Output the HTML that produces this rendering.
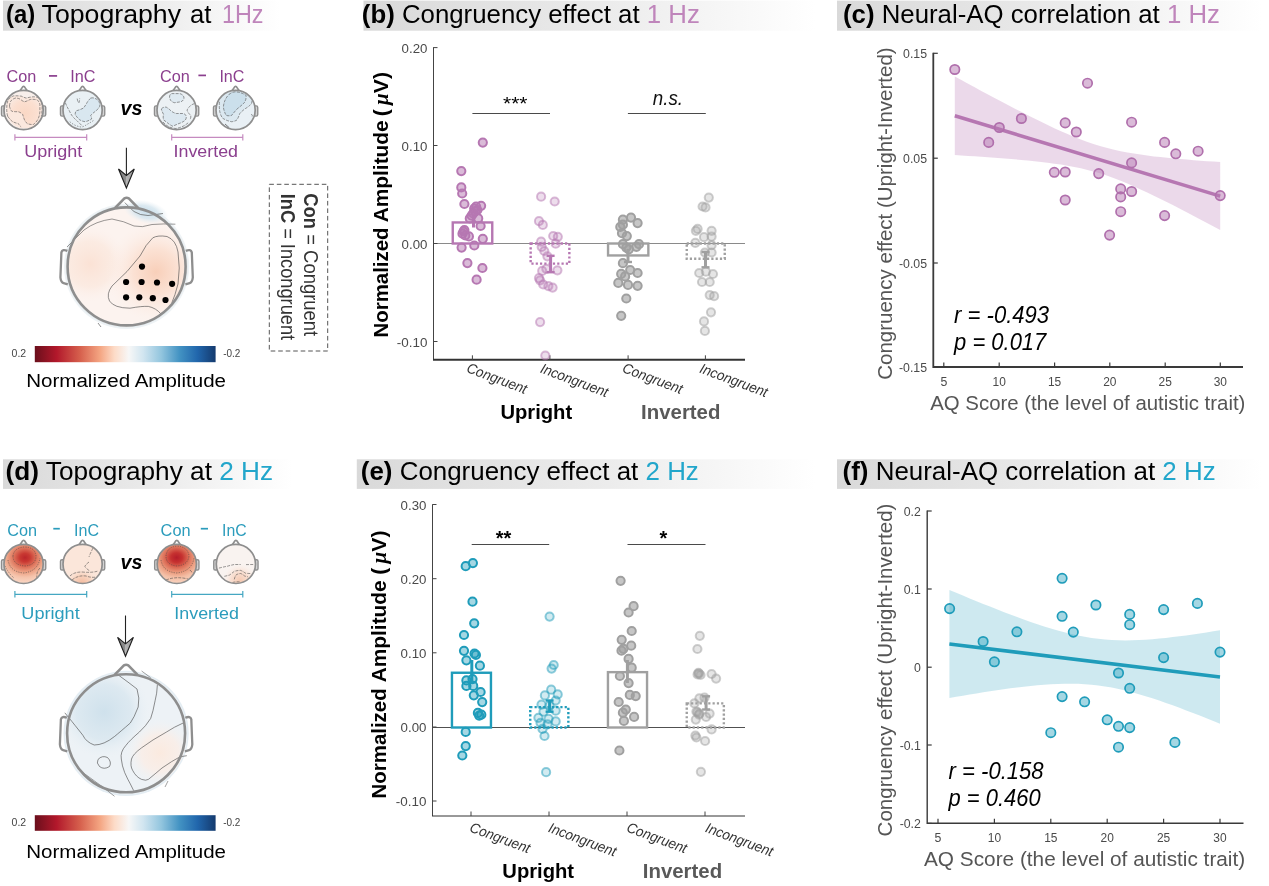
<!DOCTYPE html>
<html lang="en"><head><meta charset="utf-8"><title>Figure</title>
<style>
html,body{margin:0;padding:0;background:#fff;}
svg{display:block;will-change:transform;}
text{font-family:"Liberation Sans", Arial, Helvetica, sans-serif;}
</style></head>
<body>
<svg width="1269" height="886" viewBox="0 0 1269 886">
<rect width="1269" height="886" fill="#ffffff"/>
<defs>
<linearGradient id="hb" x1="0" x2="1" y1="0" y2="0"><stop offset="0" stop-color="#d9d9d9"/><stop offset="0.5" stop-color="#eaeaea"/><stop offset="1" stop-color="#ffffff"/></linearGradient>
<linearGradient id="cb" x1="0" x2="1" y1="0" y2="0"><stop offset="0" stop-color="#6a0f1c"/><stop offset="0.12" stop-color="#b2182b"/><stop offset="0.25" stop-color="#d6604d"/><stop offset="0.36" stop-color="#f4a582"/><stop offset="0.44" stop-color="#fddbc7"/><stop offset="0.52" stop-color="#f7f7f7"/><stop offset="0.60" stop-color="#d1e5f0"/><stop offset="0.70" stop-color="#92c5de"/><stop offset="0.80" stop-color="#4393c3"/><stop offset="0.90" stop-color="#2166ac"/><stop offset="1" stop-color="#143a6e"/></linearGradient>
</defs>
<rect x="3" y="0.6" width="277" height="30.1" fill="url(#hb)"/>
<text x="6.1" y="22.6" font-size="25" fill="#000" font-weight="bold" textLength="29.2" lengthAdjust="spacingAndGlyphs" >(a)</text>
<text x="41.6" y="22.6" font-size="25" fill="#000" textLength="139.4" lengthAdjust="spacingAndGlyphs" >Topography</text>
<text x="189.9" y="22.6" font-size="25" fill="#000" textLength="21.4" lengthAdjust="spacingAndGlyphs" >at</text>
<text x="221.9" y="22.6" font-size="25" fill="#bf85bb" textLength="41.6" lengthAdjust="spacingAndGlyphs" >1Hz</text>
<rect x="363.5" y="0.6" width="451.5" height="30.099999999999998" fill="url(#hb)"/>
<text x="361.8" y="22.5" font-size="25" textLength="338" lengthAdjust="spacingAndGlyphs"><tspan font-weight="bold">(b)</tspan> Congruency effect at <tspan fill="#bf85bb">1 Hz</tspan></text>
<rect x="837" y="0.6" width="425" height="30.099999999999998" fill="url(#hb)"/>
<text x="843" y="22.5" font-size="25" textLength="377" lengthAdjust="spacingAndGlyphs"><tspan font-weight="bold">(c)</tspan> Neural-AQ correlation at <tspan fill="#bf85bb">1 Hz</tspan></text>
<rect x="3" y="459.3" width="289" height="29.599999999999966" fill="url(#hb)"/>
<text x="5.6" y="480.2" font-size="25" textLength="267.5" lengthAdjust="spacingAndGlyphs"><tspan font-weight="bold">(d)</tspan> Topography at <tspan fill="#22a6cb">2 Hz</tspan></text>
<rect x="356.8" y="459.3" width="458.2" height="29.599999999999966" fill="url(#hb)"/>
<text x="360.8" y="480.2" font-size="25" textLength="338" lengthAdjust="spacingAndGlyphs"><tspan font-weight="bold">(e)</tspan> Congruency effect at <tspan fill="#22a6cb">2 Hz</tspan></text>
<rect x="837" y="459.3" width="425" height="29.599999999999966" fill="url(#hb)"/>
<text x="842.6" y="480.2" font-size="25" textLength="373" lengthAdjust="spacingAndGlyphs"><tspan font-weight="bold">(f)</tspan> Neural-AQ correlation at <tspan fill="#22a6cb">2 Hz</tspan></text>
<text x="6.6" y="82.4" font-size="16.6" fill="#8b3f8e" textLength="29.8" lengthAdjust="spacingAndGlyphs" >Con</text>
<text x="160" y="82.4" font-size="16.6" fill="#8b3f8e" textLength="29.8" lengthAdjust="spacingAndGlyphs" >Con</text>
<text x="70.2" y="82.4" font-size="16.6" fill="#8b3f8e" textLength="25.2" lengthAdjust="spacingAndGlyphs" >InC</text>
<text x="219.4" y="82.4" font-size="16.6" fill="#8b3f8e" textLength="25" lengthAdjust="spacingAndGlyphs" >InC</text>
<rect x="49" y="75.05000000000001" width="8.10" height="1.7" fill="#8b3f8e"/>
<rect x="198.4" y="74.55000000000001" width="7.60" height="1.7" fill="#8b3f8e"/>
<path d="M14.9 134.20000000000002V140.6M14.9 137.4H86.7M86.7 134.20000000000002V140.6" stroke="#c58bc0" stroke-width="1.2" fill="none"/>
<path d="M171.7 134.20000000000002V140.6M171.7 137.4H242.8M242.8 134.20000000000002V140.6" stroke="#c58bc0" stroke-width="1.2" fill="none"/>
<text x="24.2" y="157.3" font-size="17.3" fill="#8b3f8e" textLength="58" lengthAdjust="spacingAndGlyphs" >Upright</text>
<text x="173.6" y="157.3" font-size="17.3" fill="#8b3f8e" textLength="64.4" lengthAdjust="spacingAndGlyphs" >Inverted</text>
<text x="120.5" y="115.2" font-size="21" fill="#000" font-weight="bold" font-style="italic" textLength="21.8" lengthAdjust="spacingAndGlyphs" >vs</text>
<text x="7.2" y="535.6" font-size="16.6" fill="#2b9cbc" textLength="29.8" lengthAdjust="spacingAndGlyphs" >Con</text>
<text x="160.6" y="535.6" font-size="16.6" fill="#2b9cbc" textLength="30" lengthAdjust="spacingAndGlyphs" >Con</text>
<text x="74" y="535.6" font-size="16.6" fill="#2b9cbc" textLength="25" lengthAdjust="spacingAndGlyphs" >InC</text>
<text x="222" y="535.6" font-size="16.6" fill="#2b9cbc" textLength="24.6" lengthAdjust="spacingAndGlyphs" >InC</text>
<rect x="53.3" y="527.85" width="6.50" height="1.7" fill="#2b9cbc"/>
<rect x="200.8" y="527.85" width="7.20" height="1.7" fill="#2b9cbc"/>
<path d="M14.9 591.0999999999999V597.5M14.9 594.3H86.7M86.7 591.0999999999999V597.5" stroke="#45a7c2" stroke-width="1.2" fill="none"/>
<path d="M171.7 591.0999999999999V597.5M171.7 594.3H242.8M242.8 591.0999999999999V597.5" stroke="#45a7c2" stroke-width="1.2" fill="none"/>
<text x="21.3" y="618.9" font-size="17.3" fill="#2b9cbc" textLength="58.4" lengthAdjust="spacingAndGlyphs" >Upright</text>
<text x="174.3" y="618.9" font-size="17.3" fill="#2b9cbc" textLength="64.6" lengthAdjust="spacingAndGlyphs" >Inverted</text>
<text x="120.5" y="568.5" font-size="21" fill="#000" font-weight="bold" font-style="italic" textLength="21.8" lengthAdjust="spacingAndGlyphs" >vs</text>
<defs><linearGradient id="arw" x1="0" x2="1" y1="0" y2="0"><stop offset="0" stop-color="#7d7d7d"/><stop offset="0.5" stop-color="#8e8e8e"/><stop offset="0.5" stop-color="#b4b4b4"/><stop offset="1" stop-color="#9a9a9a"/></linearGradient></defs>
<path d="M126.4 147.7V180" stroke="#222" stroke-width="1.1"/>
<path d="M126.4 188 L118.5 169 L126.4 175.5 L134.3 169 Z" fill="url(#arw)" stroke="#1e1e1e" stroke-width="1.1" stroke-linejoin="miter"/>
<path d="M125.5 615.5V648.3" stroke="#222" stroke-width="1.1"/>
<path d="M125.5 656.3 L117.6 637.3 L125.5 643.8 L133.4 637.3 Z" fill="url(#arw)" stroke="#1e1e1e" stroke-width="1.1" stroke-linejoin="miter"/>
<defs>
<radialGradient id="ga1" gradientUnits="userSpaceOnUse" cx="25" cy="113" r="20"><stop offset="0" stop-color="#fad8c5" stop-opacity="1"/><stop offset="0.6" stop-color="#fbdfd0" stop-opacity="1"/><stop offset="1" stop-color="#f8ebe4" stop-opacity="1"/></radialGradient>
<radialGradient id="ga2" gradientUnits="userSpaceOnUse" cx="88" cy="112" r="13"><stop offset="0" stop-color="#d6e6ef" stop-opacity="1"/><stop offset="1" stop-color="#eef3f6" stop-opacity="1"/></radialGradient>
<radialGradient id="ga3" gradientUnits="userSpaceOnUse" cx="170" cy="118" r="14"><stop offset="0" stop-color="#dce9f1" stop-opacity="1"/><stop offset="1" stop-color="#f0f4f6" stop-opacity="1"/></radialGradient>
<radialGradient id="ga4" gradientUnits="userSpaceOnUse" cx="232" cy="104" r="15"><stop offset="0" stop-color="#c3dcea" stop-opacity="1"/><stop offset="0.6" stop-color="#dbe9f1" stop-opacity="1"/><stop offset="1" stop-color="#f0f4f6" stop-opacity="1"/></radialGradient>
<radialGradient id="gd1" gradientUnits="userSpaceOnUse" cx="25" cy="557.6" r="26.5" gradientTransform="translate(25 557.6) scale(1.2 1) translate(-25 -557.6)"><stop offset="0" stop-color="#bb262b" stop-opacity="1"/><stop offset="0.16" stop-color="#c93932" stop-opacity="1"/><stop offset="0.36" stop-color="#dd735b" stop-opacity="1"/><stop offset="0.55" stop-color="#eca184" stop-opacity="1"/><stop offset="0.74" stop-color="#f5c3ab" stop-opacity="1"/><stop offset="1" stop-color="#fad9c7" stop-opacity="1"/></radialGradient>
<radialGradient id="gd2" gradientUnits="userSpaceOnUse" cx="82" cy="584" r="16"><stop offset="0" stop-color="#f3b99c" stop-opacity="1"/><stop offset="0.6" stop-color="#f8d6c3" stop-opacity="1"/><stop offset="1" stop-color="#fbe6da" stop-opacity="0"/></radialGradient>
<radialGradient id="gd3" gradientUnits="userSpaceOnUse" cx="176.6" cy="557.6" r="27" gradientTransform="translate(176.6 557.6) scale(1.2 1) translate(-176.6 -557.6)"><stop offset="0" stop-color="#b51d2a" stop-opacity="1"/><stop offset="0.18" stop-color="#c63230" stop-opacity="1"/><stop offset="0.38" stop-color="#dc6f58" stop-opacity="1"/><stop offset="0.56" stop-color="#eb9c7f" stop-opacity="1"/><stop offset="0.74" stop-color="#f4bfa6" stop-opacity="1"/><stop offset="1" stop-color="#f9d6c3" stop-opacity="1"/></radialGradient>
<radialGradient id="gd4" gradientUnits="userSpaceOnUse" cx="240" cy="581" r="17"><stop offset="0" stop-color="#f5c8b0" stop-opacity="1"/><stop offset="0.55" stop-color="#f9dfd1" stop-opacity="0.95"/><stop offset="1" stop-color="#faeee8" stop-opacity="0"/></radialGradient>
</defs>
<clipPath id="cla1"><circle cx="23.6" cy="110" r="19.6"/></clipPath>
<rect x="1.45" y="105.88" width="4.08" height="10.19" rx="1.53" fill="#d4d4d4" stroke="#8e8e8e" stroke-width="1.36"/>
<rect x="41.67" y="105.88" width="4.08" height="10.19" rx="1.53" fill="#d4d4d4" stroke="#8e8e8e" stroke-width="1.36"/>
<path d="M19.88 91.00 L22.67 86.87 Q23.60 85.99 24.53 86.87 L27.32 91.00" fill="#fff" stroke="#8e8e8e" stroke-width="1.70" stroke-linejoin="round"/>
<g clip-path="url(#cla1)">
<rect x="0" y="85" width="50" height="50" fill="#f8efeb"/>
<path d="M7.7 116.3 Q6.4 111.6 6.8 107.2 Q6.9 103 8.2 99.9 Q10.4 97 13.6 95.9 Q17.8 95.6 21.8 96.3 Q24.2 97.6 26.3 98.1 Q30 97 33.5 96.8 Q37 96.9 39.9 98.1 Q41.8 101.4 42.2 105.4 Q42.2 111 41.3 116.3 Q38 126 30 128 L20 128 Q10 124 7.7 116.3Z" fill="#fbe8de"/>
<path d="M9.5 106.3 Q9.6 103 10.9 100.9 Q12.8 98.8 15.4 98.1 Q17.8 98 19.9 99 Q22.4 101 24.5 101.8 Q27.4 101 29.9 99.5 Q33.6 99 37.2 99.9 Q39.4 101.8 39.9 104.5 L39.9 111.7 Q39.6 115.6 38.1 119 Q36.2 122.4 33.5 124.4 Q30 124.8 27.2 123.5 Q25.4 122 24.5 119.9 Q23.4 117 22.7 114.5 Q20.8 112.4 18.1 111.7 Q14.8 111.8 11.8 111.3 Q10 109 9.5 106.3Z" fill="url(#ga1)"/>
<path d="M9.5 106.3 Q9.6 103 10.9 100.9 Q12.8 98.8 15.4 98.1 Q17.8 98 19.9 99 Q22.4 101 24.5 101.8 Q27.4 101 29.9 99.5 Q33.6 99 37.2 99.9 Q39.4 101.8 39.9 104.5 L39.9 111.7 Q39.6 115.6 38.1 119 Q36.2 122.4 33.5 124.4 Q30 124.8 27.2 123.5 Q25.4 122 24.5 119.9 Q23.4 117 22.7 114.5 Q20.8 112.4 18.1 111.7 Q14.8 111.8 11.8 111.3 Q10 109 9.5 106.3Z" fill="none" stroke="#444" stroke-width="0.55" stroke-dasharray="3 1.2"/>
<path d="M7.7 116.3 Q6.4 111.6 6.8 107.2 Q6.9 103 8.2 99.9 Q10.4 97 13.6 95.9 Q17.8 95.6 21.8 96.3 Q24.2 97.6 26.3 98.1 Q30 97 33.5 96.8 Q37 96.9 39.9 98.1 Q41.8 101.4 42.2 105.4 Q42.2 111 41.3 116.3" fill="none" stroke="#444" stroke-width="0.55" stroke-dasharray="3 1.2"/>
<path d="M7.7 116.3 Q10 119.6 12.7 121.7 Q15.4 123 18.1 123.5 Q19.8 125 20.9 127.1" fill="none" stroke="#444" stroke-width="0.55" stroke-dasharray="3 1.2"/>
</g>
<circle cx="23.6" cy="110" r="19.6" fill="none" stroke="#8e8e8e" stroke-width="1.7"/>
<clipPath id="cla2"><circle cx="82.6" cy="110" r="19.6"/></clipPath>
<rect x="60.45" y="105.88" width="4.08" height="10.19" rx="1.53" fill="#d4d4d4" stroke="#8e8e8e" stroke-width="1.36"/>
<rect x="100.67" y="105.88" width="4.08" height="10.19" rx="1.53" fill="#d4d4d4" stroke="#8e8e8e" stroke-width="1.36"/>
<path d="M78.88 91.00 L81.67 86.87 Q82.60 85.99 83.53 86.87 L86.32 91.00" fill="#fff" stroke="#8e8e8e" stroke-width="1.70" stroke-linejoin="round"/>
<g clip-path="url(#cla2)">
<rect x="60" y="85" width="50" height="50" fill="#e9f0f4"/>
<path d="M90.7 98.1 Q88.4 100.2 87 102.7 Q85.4 105.6 83.4 108.1 Q80 109.8 76.2 110.8 Q75 112.6 75.2 114.5 Q77 117.6 79.8 119.9 Q82.4 121.4 85.2 121.7 Q88.8 120.8 91.6 119 Q91.6 117 90.7 115.4 Q93.2 112.8 96.1 110.8 Q98.4 108.8 99.7 106.3 Q99.8 103.4 98.8 100.9 Q96.8 99 94.3 98.1 Q92.4 97.6 90.7 98.1Z" fill="#d9e7f0"/>
<path d="M90.7 98.1 Q88.4 100.2 87 102.7 Q85.4 105.6 83.4 108.1 Q80 109.8 76.2 110.8 Q75 112.6 75.2 114.5 Q77 117.6 79.8 119.9 Q82.4 121.4 85.2 121.7 Q88.8 120.8 91.6 119 Q91.6 117 90.7 115.4 Q93.2 112.8 96.1 110.8 Q98.4 108.8 99.7 106.3 Q99.8 103.4 98.8 100.9 Q96.8 99 94.3 98.1 Q92.4 97.6 90.7 98.1Z" fill="none" stroke="#444" stroke-width="0.55" stroke-dasharray="3 1.2"/>
<path d="M77.2 98.6 Q77.6 101.6 78.9 102.9 Q79.8 100.6 79.6 98.4" fill="none" stroke="#444" stroke-width="0.55" stroke-dasharray="3 1.2"/>
<path d="M65.3 102.7 Q66.8 106.6 68.9 109.9 Q70.4 113.4 72.5 116.3 Q74.6 118.8 77.1 120.8 L81.6 125.3" fill="none" stroke="#444" stroke-width="0.55" stroke-dasharray="3 1.2"/>
<path d="M69.8 121.7 Q72.2 123.8 75.2 125.3 Q78.4 126.6 81.6 127.1 Q84.6 126.2 87 124.4 Q90.8 122.4 94.3 119.9" fill="none" stroke="#444" stroke-width="0.55" stroke-dasharray="1.4 1.4"/>
</g>
<circle cx="82.6" cy="110" r="19.6" fill="none" stroke="#8e8e8e" stroke-width="1.7"/>
<clipPath id="cla3"><circle cx="176.6" cy="110" r="19.6"/></clipPath>
<rect x="154.45" y="105.88" width="4.08" height="10.19" rx="1.53" fill="#d4d4d4" stroke="#8e8e8e" stroke-width="1.36"/>
<rect x="194.67" y="105.88" width="4.08" height="10.19" rx="1.53" fill="#d4d4d4" stroke="#8e8e8e" stroke-width="1.36"/>
<path d="M172.88 91.00 L175.67 86.87 Q176.60 85.99 177.53 86.87 L180.32 91.00" fill="#fff" stroke="#8e8e8e" stroke-width="1.70" stroke-linejoin="round"/>
<g clip-path="url(#cla3)">
<rect x="150" y="85" width="50" height="50" fill="#ecf1f4"/>
<path d="M169.5 97.2 Q169.6 94 171.8 93.6 L179.9 93.6 Q184 95 184 98.1 Q183.5 100.8 180.8 101.8 L174.5 102.7 Q171.5 102 170.4 99.9Z" fill="#dfeaf1"/>
<path d="M161.3 109 Q163.5 106.6 166.3 107.2 Q168.8 108.6 170.9 110.8 Q173.4 112.8 176.3 113.5 L183.5 113.5 Q186.4 114.6 186.3 117.2 Q186.2 119.6 184.5 120.8 Q182 122.6 179 123.5 L172.7 126.2 Q169.6 124.8 167.2 122.6 L163.6 119.9 Q162.8 117 163.6 114.4 Q162 111.6 161.3 109Z" fill="#dce8f0"/>
<path d="M169.5 97.2 Q169.6 94 171.8 93.6 L179.9 93.6 Q184 95 184 98.1 Q183.5 100.8 180.8 101.8 L174.5 102.7 Q171.5 102 170.4 99.9Z" fill="none" stroke="#444" stroke-width="0.55" stroke-dasharray="3 1.2"/>
<path d="M161.3 109 Q163.5 106.6 166.3 107.2 Q168.8 108.6 170.9 110.8 Q173.4 112.8 176.3 113.5 L183.5 113.5 Q186.4 114.6 186.3 117.2 Q186.2 119.6 184.5 120.8 Q182 122.6 179 123.5 L172.7 126.2 Q169.6 124.8 167.2 122.6 L163.6 119.9 Q162.8 117 163.6 114.4 Q162 111.6 161.3 109Z" fill="none" stroke="#444" stroke-width="0.55" stroke-dasharray="3 1.2"/>
<path d="M194.4 103.6 Q190.6 105 189 107.2 Q187 109.2 187.2 110.8 Q188.6 113.6 190.8 115.4 Q191 118 189.9 119.9" fill="none" stroke="#444" stroke-width="0.55" stroke-dasharray="3 1.2"/>
<path d="M163 122 Q168 128 176 128.5 Q184 127 189 122" fill="none" stroke="#444" stroke-width="0.55" stroke-dasharray="3 1.2"/>
</g>
<circle cx="176.6" cy="110" r="19.6" fill="none" stroke="#8e8e8e" stroke-width="1.7"/>
<clipPath id="cla4"><circle cx="235.6" cy="110" r="19.6"/></clipPath>
<rect x="213.45" y="105.88" width="4.08" height="10.19" rx="1.53" fill="#d4d4d4" stroke="#8e8e8e" stroke-width="1.36"/>
<rect x="253.67" y="105.88" width="4.08" height="10.19" rx="1.53" fill="#d4d4d4" stroke="#8e8e8e" stroke-width="1.36"/>
<path d="M231.88 91.00 L234.67 86.87 Q235.60 85.99 236.53 86.87 L239.32 91.00" fill="#fff" stroke="#8e8e8e" stroke-width="1.70" stroke-linejoin="round"/>
<g clip-path="url(#cla4)">
<rect x="210" y="85" width="50" height="50" fill="#e9f0f5"/>
<path d="M219.4 101.8 Q219 107 219.8 111.7 Q220.6 115.4 222.5 118.1 Q226.6 120.8 231.6 121.7 Q234.8 121.4 237 119.9 Q238.8 116.6 239.8 113.5 Q242.6 110.4 246.1 108.1 Q249.4 106.2 251.5 103.6 Q252.4 100.8 252 98.1 L246 92 L232 89 L222 94Z" fill="#dbe8f0"/>
<path d="M228.9 94.5 Q231.6 92.2 235.2 91.8 Q241.6 92.2 246.1 95.4 Q246.4 99.6 244.3 102.7 Q241 106 237 109 Q234 112.4 231.6 115.4 Q228.8 116.2 226.2 115.4 Q224 111.6 223.4 107.2 Q223.6 103.2 225.2 99.9 Q226.6 96.8 228.9 94.5Z" fill="#cbdfeb"/>
<path d="M228.9 94.5 Q231.6 92.2 235.2 91.8 Q241.6 92.2 246.1 95.4 Q246.4 99.6 244.3 102.7 Q241 106 237 109 Q234 112.4 231.6 115.4 Q228.8 116.2 226.2 115.4 Q224 111.6 223.4 107.2 Q223.6 103.2 225.2 99.9 Q226.6 96.8 228.9 94.5Z" fill="none" stroke="#444" stroke-width="0.55" stroke-dasharray="3 1.2"/>
<path d="M219.4 101.8 Q219 107 219.8 111.7 Q220.6 115.4 222.5 118.1 Q226.6 120.8 231.6 121.7 Q234.8 121.4 237 119.9 Q238.8 116.6 239.8 113.5 Q242.6 110.4 246.1 108.1 Q249.4 106.2 251.5 103.6 Q252.4 100.8 252 98.1" fill="none" stroke="#444" stroke-width="0.55" stroke-dasharray="3 1.2"/>
<path d="M251.2 114 Q253.4 115.4 251.6 117.2" fill="none" stroke="#444" stroke-width="0.55" stroke-dasharray="3 1.2"/>
<path d="M225 124 L229 127.5" fill="none" stroke="#444" stroke-width="0.7"/>
</g>
<circle cx="235.6" cy="110" r="19.6" fill="none" stroke="#8e8e8e" stroke-width="1.7"/>
<clipPath id="cld1"><circle cx="23.6" cy="563.9" r="19.6"/></clipPath>
<rect x="1.45" y="559.78" width="4.08" height="10.19" rx="1.53" fill="#d4d4d4" stroke="#8e8e8e" stroke-width="1.36"/>
<rect x="41.67" y="559.78" width="4.08" height="10.19" rx="1.53" fill="#d4d4d4" stroke="#8e8e8e" stroke-width="1.36"/>
<path d="M19.88 544.90 L22.67 540.77 Q23.60 539.89 24.53 540.77 L27.32 544.90" fill="#fff" stroke="#8e8e8e" stroke-width="1.70" stroke-linejoin="round"/>
<g clip-path="url(#cld1)">
<rect x="0" y="540" width="50" height="50" fill="url(#gd1)"/>
<path d="M13 556 Q14 548 24 547 Q35 547 36 556 Q36 565 25 566 Q13 565 13 556Z" fill="none" stroke="#444" stroke-width="0.55" stroke-dasharray="1.2 1.2"/>
<path d="M8 560 Q10 572 24 573 Q38 571 40 558" fill="none" stroke="#444" stroke-width="0.55" stroke-dasharray="1.2 1.2"/>
<path d="M5 566 Q9 574 14 578" fill="none" stroke="#444" stroke-width="0.55" stroke-dasharray="1.2 1.2"/>
<path d="M40 568 Q36 572 37 578" fill="none" stroke="#444" stroke-width="0.55" stroke-dasharray="3 1.2"/>
</g>
<circle cx="23.6" cy="563.9" r="19.6" fill="none" stroke="#8e8e8e" stroke-width="1.7"/>
<clipPath id="cld2"><circle cx="82.6" cy="563.9" r="19.6"/></clipPath>
<rect x="60.45" y="559.78" width="4.08" height="10.19" rx="1.53" fill="#d4d4d4" stroke="#8e8e8e" stroke-width="1.36"/>
<rect x="100.67" y="559.78" width="4.08" height="10.19" rx="1.53" fill="#d4d4d4" stroke="#8e8e8e" stroke-width="1.36"/>
<path d="M78.88 544.90 L81.67 540.77 Q82.60 539.89 83.53 540.77 L86.32 544.90" fill="#fff" stroke="#8e8e8e" stroke-width="1.70" stroke-linejoin="round"/>
<g clip-path="url(#cld2)">
<rect x="60" y="540" width="50" height="50" fill="#fbe6da"/>
<circle cx="82" cy="584" r="16" fill="url(#gd2)"/>
<path d="M93 548 Q90 554 89 557" fill="none" stroke="#444" stroke-width="0.55" stroke-dasharray="3 1.2"/>
<path d="M89 562 Q84 566 85 567 Q88 570 90 571" fill="none" stroke="#444" stroke-width="0.55" stroke-dasharray="3 1.2"/>
<path d="M70 576 Q74 572 82 572 Q92 573 98 571" fill="none" stroke="#444" stroke-width="0.55" stroke-dasharray="3 1.2"/>
<path d="M72 580 Q78 575 86 576 Q92 578 96 577" fill="none" stroke="#444" stroke-width="0.55" stroke-dasharray="3 1.2"/>
</g>
<circle cx="82.6" cy="563.9" r="19.6" fill="none" stroke="#8e8e8e" stroke-width="1.7"/>
<clipPath id="cld3"><circle cx="176.8" cy="563.9" r="19.6"/></clipPath>
<rect x="154.65" y="559.78" width="4.08" height="10.19" rx="1.53" fill="#d4d4d4" stroke="#8e8e8e" stroke-width="1.36"/>
<rect x="194.87" y="559.78" width="4.08" height="10.19" rx="1.53" fill="#d4d4d4" stroke="#8e8e8e" stroke-width="1.36"/>
<path d="M173.08 544.90 L175.87 540.77 Q176.80 539.89 177.73 540.77 L180.52 544.90" fill="#fff" stroke="#8e8e8e" stroke-width="1.70" stroke-linejoin="round"/>
<g clip-path="url(#cld3)">
<rect x="150" y="540" width="50" height="50" fill="url(#gd3)"/>
<path d="M166 556 Q167 547 177 546 Q188 547 189 556 Q188 565 177 566 Q166 565 166 556Z" fill="none" stroke="#444" stroke-width="0.55" stroke-dasharray="1.2 1.2"/>
<path d="M161 560 Q163 572 177 573 Q192 571 194 558" fill="none" stroke="#444" stroke-width="0.55" stroke-dasharray="1.2 1.2"/>
<path d="M166 580 Q176 576 188 579" fill="none" stroke="#444" stroke-width="0.55" stroke-dasharray="3 1.2"/>
<path d="M190 570 Q193 574 196 574" fill="none" stroke="#444" stroke-width="0.55" stroke-dasharray="3 1.2"/>
</g>
<circle cx="176.8" cy="563.9" r="19.6" fill="none" stroke="#8e8e8e" stroke-width="1.7"/>
<clipPath id="cld4"><circle cx="235.9" cy="563.9" r="19.6"/></clipPath>
<rect x="213.75" y="559.78" width="4.08" height="10.19" rx="1.53" fill="#d4d4d4" stroke="#8e8e8e" stroke-width="1.36"/>
<rect x="253.97" y="559.78" width="4.08" height="10.19" rx="1.53" fill="#d4d4d4" stroke="#8e8e8e" stroke-width="1.36"/>
<path d="M232.18 544.90 L234.97 540.77 Q235.90 539.89 236.83 540.77 L239.62 544.90" fill="#fff" stroke="#8e8e8e" stroke-width="1.70" stroke-linejoin="round"/>
<g clip-path="url(#cld4)">
<rect x="210" y="540" width="50" height="50" fill="#f9f3f0"/>
<circle cx="240" cy="581" r="17" fill="url(#gd4)"/>
<path d="M218.9 568.1 Q223 567 227.1 566.3 Q230.8 565.2 234.3 564.5 L240.7 564.5 M246 564.6 L254.3 564.5" fill="none" stroke="#444" stroke-width="0.55" stroke-dasharray="3 1.2"/>
<path d="M224.3 576.3 Q227.2 575.8 229.8 574.9 Q232.2 573 234.3 571.3 Q237.4 570.4 240.7 570.4 Q243.2 571.4 245.2 573.1 Q248.4 573.6 251.5 573.5" fill="none" stroke="#444" stroke-width="0.55" stroke-dasharray="3 1.2"/>
<path d="M234.3 579.4 Q234.8 576.8 236.1 574.9 Q238.2 573.6 240.7 573.5 Q242.8 574.4 244.3 575.8 Q246 576.6 247.9 576.7" fill="none" stroke="#444" stroke-width="0.55" stroke-dasharray="3 1.2"/>
<path d="M232.5 582.5 Q236 581.4 240 582" fill="none" stroke="#444" stroke-width="0.55" stroke-dasharray="3 1.2"/>
</g>
<circle cx="235.9" cy="563.9" r="19.6" fill="none" stroke="#8e8e8e" stroke-width="1.7"/>
<defs>
<radialGradient id="gA1" gradientUnits="userSpaceOnUse" cx="156" cy="272" r="50"><stop offset="0" stop-color="#f8cfb9" stop-opacity="1"/><stop offset="0.45" stop-color="#fbdfd0" stop-opacity="0.9"/><stop offset="1" stop-color="#fcefe8" stop-opacity="0"/></radialGradient>
<radialGradient id="gA2" gradientUnits="userSpaceOnUse" cx="90" cy="264" r="38"><stop offset="0" stop-color="#fbe2d5" stop-opacity="1"/><stop offset="0.6" stop-color="#fbe9df" stop-opacity="0.8"/><stop offset="1" stop-color="#fcf1ec" stop-opacity="0"/></radialGradient>
<radialGradient id="gA3" gradientUnits="userSpaceOnUse" cx="146" cy="208" r="24"><stop offset="0" stop-color="#c9deea" stop-opacity="1"/><stop offset="0.6" stop-color="#dce9f0" stop-opacity="0.8"/><stop offset="1" stop-color="#eef3f6" stop-opacity="0"/></radialGradient>
<radialGradient id="blobB"><stop offset="0" stop-color="#cbdfeb" stop-opacity="1"/><stop offset="0.55" stop-color="#d6e6ef" stop-opacity="0.85"/><stop offset="1" stop-color="#e8f0f5" stop-opacity="0"/></radialGradient>
<radialGradient id="gD1" gradientUnits="userSpaceOnUse" cx="104" cy="712" r="46"><stop offset="0" stop-color="#cfe1ec" stop-opacity="1"/><stop offset="0.6" stop-color="#dbe8f0" stop-opacity="0.9"/><stop offset="1" stop-color="#e9f0f5" stop-opacity="0"/></radialGradient>
<radialGradient id="gD2" gradientUnits="userSpaceOnUse" cx="160" cy="753" r="34"><stop offset="0" stop-color="#fbeadf" stop-opacity="1"/><stop offset="0.55" stop-color="#f9eee8" stop-opacity="0.9"/><stop offset="1" stop-color="#f1f3f4" stop-opacity="0"/></radialGradient>
</defs>
<clipPath id="clA"><circle cx="126.6" cy="266.4" r="61.2"/></clipPath>
<circle cx="126.6" cy="266.4" r="62.6" fill="#eef3f6"/>
<g clip-path="url(#clA)">
<rect x="60" y="200" width="140" height="140" fill="#fcf3ef"/>
<rect x="60" y="200" width="140" height="140" fill="url(#gA2)"/>
<rect x="60" y="200" width="140" height="140" fill="url(#gA1)"/>
<circle cx="126.6" cy="266.8" r="61" fill="none" stroke="#e3edf2" stroke-width="2.5"/>
</g>
<ellipse cx="146" cy="212" rx="23" ry="11.5" fill="url(#blobB)" transform="rotate(14 146 212)"/>
<path d="M67.39999999999999 250.89999999999998 q-5 -2.2 -6 1.5 l-1 25 q0.5 5 3.2 5.8 l4.2 1.2" fill="none" stroke="#8e8e8e" stroke-width="2.3"/>
<path d="M185.79999999999998 250.89999999999998 q5 -2.2 6 1.5 l1 25 q-0.5 5 -3.2 5.8 l-4.2 1.2" fill="none" stroke="#8e8e8e" stroke-width="2.3"/>
<path d="M115.1 207.99999999999997 L124.39999999999999 198.39999999999998 Q126.6 197.2 128.79999999999998 198.39999999999998 L138.1 207.99999999999997" fill="none" stroke="#8e8e8e" stroke-width="2.6" stroke-linejoin="round"/>
<path d="M152.8 237.8 Q158 235 167 236.5 Q176 240 178 252 Q180.5 268 178 284 Q175 296 171.8 302.8" fill="none" stroke="#444" stroke-width="0.6"/>
<path d="M152.8 237.8 Q146 244 140 256 Q128 272 112 286 Q106 294 109.5 301 Q114 308 130 308.2 Q142 306 148.3 306.4 Q156 308 161 314" fill="none" stroke="#444" stroke-width="0.6"/>
<path d="M67 247 Q76 238 84 230 Q96 221 112 219 Q124 221 134 226 Q142 228 152 224.5 Q164 223.5 175.4 224.2" fill="none" stroke="#444" stroke-width="0.55"/>
<path d="M124.8 202.6 Q130 208 134 211.5 Q140 215.5 148 215.5 Q156 214.5 163 213.5" fill="none" stroke="#444" stroke-width="0.6"/>
<path d="M98 323 L101 327" fill="none" stroke="#444" stroke-width="0.6"/>
<circle cx="126.6" cy="266.4" r="59" fill="none" stroke="#8e8e8e" stroke-width="2.6"/>
<circle cx="142" cy="266.6" r="3.1" fill="#000"/>
<circle cx="126.1" cy="282" r="3.1" fill="#000"/>
<circle cx="141.6" cy="282" r="3.1" fill="#000"/>
<circle cx="157" cy="282.5" r="3.1" fill="#000"/>
<circle cx="172.1" cy="283.8" r="3.1" fill="#000"/>
<circle cx="126.1" cy="297.3" r="3.1" fill="#000"/>
<circle cx="139.3" cy="297.3" r="3.1" fill="#000"/>
<circle cx="152.8" cy="298.2" r="3.1" fill="#000"/>
<circle cx="165.5" cy="300" r="3.1" fill="#000"/>
<clipPath id="clD"><circle cx="126.1" cy="733.3" r="61.2"/></clipPath>
<circle cx="126.1" cy="733.3" r="62.6" fill="#e4edf3"/>
<g clip-path="url(#clD)">
<rect x="60" y="665" width="140" height="140" fill="#edf2f6"/>
<rect x="60" y="665" width="140" height="140" fill="url(#gD1)"/>
<rect x="60" y="665" width="140" height="140" fill="url(#gD2)"/>
</g>
<path d="M66.89999999999999 717.8 q-5 -2.2 -6 1.5 l-1 25 q0.5 5 3.2 5.8 l4.2 1.2" fill="none" stroke="#8e8e8e" stroke-width="2.3"/>
<path d="M185.29999999999998 717.8 q5 -2.2 6 1.5 l1 25 q-0.5 5 -3.2 5.8 l-4.2 1.2" fill="none" stroke="#8e8e8e" stroke-width="2.3"/>
<path d="M114.6 674.9 L123.89999999999999 665.3 Q126.1 664.0999999999999 128.29999999999998 665.3 L137.6 674.9" fill="none" stroke="#8e8e8e" stroke-width="2.6" stroke-linejoin="round"/>
<path d="M119 675.5 Q128 682 137 689 Q140 698 138.2 707 Q134 718 130.3 723 Q120 732 114.5 736.5 Q104 745 94.2 745 Q86 742 82.9 735.3 Q74 724 69.4 718.4 L64.8 712.8" fill="none" stroke="#444" stroke-width="0.6"/>
<path d="M157.4 684.5 Q157 694 155.2 700.3 Q153 712 150.7 718.4 Q146 726 139.4 732 Q130 740 125.8 745.5 Q120 752 121.3 759 Q122 766 124.7 772.6 Q128 780 130.3 783.9 L133.7 790.7" fill="none" stroke="#444" stroke-width="0.6"/>
<path d="M183.4 722.9 Q174 727 166.5 732 Q152 740 141.6 747.8 Q133 754 131.5 759 Q130 766 132.6 770.3 Q136 777 141.6 779.4 Q146 781 148.4 779.4 Q155 774 162 768 Q172 761 180 756.8 L186.8 755.7" fill="none" stroke="#444" stroke-width="0.6"/>
<path d="M98 759.5 Q102 755 107.5 757.5 Q112 762 109.5 766.5 Q104 770 99.5 766.5 Q96 763 98 759.5Z" fill="none" stroke="#444" stroke-width="0.6"/>
<path d="M82.9 772.6 Q96 782 104 788 L114.5 796.3" fill="none" stroke="#444" stroke-width="0.5"/>
<path d="M141.6 671 L150.7 677.7" fill="none" stroke="#444" stroke-width="0.5"/>
<path d="M168 781 L165 787" fill="none" stroke="#444" stroke-width="0.5"/>
<circle cx="126.1" cy="733.3" r="59" fill="none" stroke="#8e8e8e" stroke-width="2.6"/>
<rect x="34.8" y="346" width="180.8" height="16.2" fill="url(#cb)"/>
<text x="11.6" y="357.20000000000005" font-size="10" fill="#444" textLength="14.6" lengthAdjust="spacingAndGlyphs" >0.2</text>
<text x="223.2" y="357.20000000000005" font-size="10" fill="#444" textLength="17.2" lengthAdjust="spacingAndGlyphs" >-0.2</text>
<text x="26.2" y="387.2" font-size="19.2" fill="#000" textLength="199.8" lengthAdjust="spacingAndGlyphs" >Normalized Amplitude</text>
<rect x="34.8" y="815.2" width="180.8" height="15.6" fill="url(#cb)"/>
<text x="11.6" y="826.1" font-size="10" fill="#444" textLength="14.6" lengthAdjust="spacingAndGlyphs" >0.2</text>
<text x="223.2" y="826.1" font-size="10" fill="#444" textLength="17.2" lengthAdjust="spacingAndGlyphs" >-0.2</text>
<text x="26.2" y="857.9" font-size="19.2" fill="#000" textLength="199.8" lengthAdjust="spacingAndGlyphs" >Normalized Amplitude</text>
<rect x="269.3" y="184.3" width="58.4" height="166.7" fill="none" stroke="#555" stroke-width="1" stroke-dasharray="4.6 2.9"/>
<text transform="translate(303.9 193.2) rotate(90)" font-size="19.5" fill="#333" textLength="143" lengthAdjust="spacingAndGlyphs"><tspan font-weight="bold">Con</tspan> = Congruent</text>
<text transform="translate(281 193.7) rotate(90)" font-size="19.5" fill="#333" textLength="146.5" lengthAdjust="spacingAndGlyphs"><tspan font-weight="bold">InC</tspan> = Incongruent</text>
<path d="M433.5 243.5H745" stroke="#8a8a8a" stroke-width="1" fill="none"/>
<path d="M433.5 47.2V359.8" stroke="#444" stroke-width="1" fill="none"/>
<path d="M433.0 359.8H745" stroke="#333" stroke-width="1.9" fill="none"/>
<path d="M433.5 47.6h4" stroke="#444" stroke-width="1" fill="none"/>
<text x="427.4" y="52.7" font-size="13.7" fill="#4a4a4a" textLength="25.8" lengthAdjust="spacingAndGlyphs" text-anchor="end" >0.20</text>
<path d="M433.5 145.5h4" stroke="#444" stroke-width="1" fill="none"/>
<text x="427.4" y="150.6" font-size="13.7" fill="#4a4a4a" textLength="25.8" lengthAdjust="spacingAndGlyphs" text-anchor="end" >0.10</text>
<path d="M433.5 243.5h4" stroke="#444" stroke-width="1" fill="none"/>
<text x="427.4" y="248.6" font-size="13.7" fill="#4a4a4a" textLength="25.8" lengthAdjust="spacingAndGlyphs" text-anchor="end" >0.00</text>
<path d="M433.5 341.5h4" stroke="#444" stroke-width="1" fill="none"/>
<text x="427.4" y="346.6" font-size="13.7" fill="#4a4a4a" textLength="30.6" lengthAdjust="spacingAndGlyphs" text-anchor="end" >-0.10</text>
<path d="M472.4 359.8v-4.5" stroke="#444" stroke-width="1" fill="none"/>
<path d="M549.9 359.8v-4.5" stroke="#444" stroke-width="1" fill="none"/>
<path d="M628.1 359.8v-4.5" stroke="#444" stroke-width="1" fill="none"/>
<path d="M705.4 359.8v-4.5" stroke="#444" stroke-width="1" fill="none"/>
<text transform="translate(388 337.5) rotate(-90)" font-size="21" font-weight="bold" fill="#000" textLength="110" lengthAdjust="spacingAndGlyphs">Normalized</text>
<text transform="translate(388 222.3) rotate(-90)" font-size="21" font-weight="bold" fill="#000" textLength="102" lengthAdjust="spacingAndGlyphs">Amplitude</text>
<text transform="translate(388 116.19999999999999) rotate(-90)" font-size="21" font-weight="bold" fill="#000" textLength="44.2" lengthAdjust="spacingAndGlyphs">(&#8201;<tspan font-family="Liberation Serif, serif" font-style="italic">μ</tspan>V)</text>
<text transform="translate(465.7 371.8) rotate(20.6)" font-size="14.2" font-style="italic" fill="#333" textLength="63.2" lengthAdjust="spacingAndGlyphs">Congruent</text>
<text transform="translate(539.4 372.2) rotate(20.6)" font-size="14.2" font-style="italic" fill="#333" textLength="71.2" lengthAdjust="spacingAndGlyphs">Incongruent</text>
<text transform="translate(621.4 371.8) rotate(20.6)" font-size="14.2" font-style="italic" fill="#333" textLength="63.2" lengthAdjust="spacingAndGlyphs">Congruent</text>
<text transform="translate(698.8 372.2) rotate(20.6)" font-size="14.2" font-style="italic" fill="#333" textLength="71.2" lengthAdjust="spacingAndGlyphs">Incongruent</text>
<text x="500.4" y="418.8" font-size="20.4" fill="#000" font-weight="bold" textLength="71.8" lengthAdjust="spacingAndGlyphs" >Upright</text>
<text x="641.1" y="418.8" font-size="20.4" fill="#595959" font-weight="bold" textLength="79.3" lengthAdjust="spacingAndGlyphs" >Inverted</text>
<path d="M472.4 113.5H550" stroke="#4a4a4a" stroke-width="1" fill="none"/>
<path d="M627.9 113.5H705.8" stroke="#4a4a4a" stroke-width="1" fill="none"/>
<text x="503" y="109.7" font-size="19" fill="#000" textLength="24.5" lengthAdjust="spacingAndGlyphs" >***</text>
<text x="652.8" y="104.5" font-size="20.5" fill="#111" font-style="italic" textLength="30.2" lengthAdjust="spacingAndGlyphs" >n.s.</text>
<g stroke="#b677b2" stroke-width="2.0" stroke-opacity="1" fill="#b677b2" fill-opacity="0.5">
<circle cx="474.2" cy="208.6" r="4.1"/><circle cx="477.4" cy="210" r="4.1"/><circle cx="473.2" cy="213.4" r="4.1"/><circle cx="482.8" cy="142.6" r="4.1"/><circle cx="461.3" cy="171.1" r="4.1"/><circle cx="461.3" cy="187.4" r="4.1"/><circle cx="462.2" cy="193.5" r="4.1"/><circle cx="464.4" cy="204" r="4.1"/><circle cx="481.1" cy="205.8" r="4.1"/><circle cx="476.1" cy="206.7" r="4.1"/><circle cx="475.2" cy="211.2" r="4.1"/><circle cx="471.6" cy="215.7" r="4.1"/><circle cx="478.2" cy="218.4" r="4.1"/><circle cx="469.8" cy="218.4" r="4.1"/><circle cx="480.6" cy="226" r="4.1"/><circle cx="464.4" cy="230.1" r="4.1"/><circle cx="462.5" cy="233.7" r="4.1"/><circle cx="465.3" cy="235.5" r="4.1"/><circle cx="468.9" cy="236.4" r="4.1"/><circle cx="463.5" cy="231.5" r="4.1"/><circle cx="482.8" cy="238.8" r="4.1"/><circle cx="474.3" cy="245.5" r="4.1"/><circle cx="461.6" cy="247.6" r="4.1"/><circle cx="467.4" cy="263.1" r="4.1"/><circle cx="482.4" cy="268" r="4.1"/><circle cx="476.6" cy="279.7" r="4.1"/>
</g>
<rect x="452.75" y="222.45" width="39.50" height="21.05" fill="none" stroke="#b677b2" stroke-width="2.4" stroke-opacity="1.0"/>
<path d="M473.5 215.8V227.5" stroke="#b677b2" stroke-width="3" fill="none"/>
<g stroke="#b677b2" stroke-width="2.0" stroke-opacity="0.5" fill="#b677b2" fill-opacity="0.25">
<circle cx="541.1" cy="196.7" r="4.1"/><circle cx="554.7" cy="201.5" r="4.1"/><circle cx="539" cy="221.2" r="4.1"/><circle cx="542.8" cy="224.9" r="4.1"/><circle cx="553.2" cy="236" r="4.1"/><circle cx="557.8" cy="236.8" r="4.1"/><circle cx="541.1" cy="241.6" r="4.1"/><circle cx="555.7" cy="243.7" r="4.1"/><circle cx="541.7" cy="246.9" r="4.1"/><circle cx="544.3" cy="251" r="4.1"/><circle cx="547.4" cy="256.3" r="4.1"/><circle cx="557.4" cy="270.3" r="4.1"/><circle cx="546.3" cy="268.8" r="4.1"/><circle cx="542.2" cy="270.9" r="4.1"/><circle cx="539" cy="278.2" r="4.1"/><circle cx="540.1" cy="280.3" r="4.1"/><circle cx="543.2" cy="284.5" r="4.1"/><circle cx="548.4" cy="286.1" r="4.1"/><circle cx="552.6" cy="287.6" r="4.1"/><circle cx="540.1" cy="322.1" r="4.1"/><circle cx="545.3" cy="355.5" r="4.1"/>
</g>
<rect x="530.65" y="243.50" width="38.70" height="20.15" fill="none" stroke="#b677b2" stroke-width="2.4" stroke-dasharray="2.2 2.1" stroke-opacity="1.0"/>
<path d="M550.6 255.8V272.2" stroke="#b677b2" stroke-width="3" fill="none"/>
<path d="M546.6 255.8H554.6" stroke="#b677b2" stroke-width="2.4000000000000004" fill="none"/>
<path d="M546.6 272.2H554.6" stroke="#b677b2" stroke-width="2.4000000000000004" fill="none"/>
<g stroke="#a0a0a0" stroke-width="2.0" stroke-opacity="1" fill="#a0a0a0" fill-opacity="0.6">
<circle cx="631" cy="217.6" r="4.1"/><circle cx="622.9" cy="219.7" r="4.1"/><circle cx="637.6" cy="223.1" r="4.1"/><circle cx="622.9" cy="224.7" r="4.1"/><circle cx="620.3" cy="226.9" r="4.1"/><circle cx="622" cy="233.2" r="4.1"/><circle cx="626.8" cy="236.1" r="4.1"/><circle cx="622.9" cy="244.2" r="4.1"/><circle cx="639" cy="244.2" r="4.1"/><circle cx="636.4" cy="246.8" r="4.1"/><circle cx="626.3" cy="247.6" r="4.1"/><circle cx="628.8" cy="249.3" r="4.1"/><circle cx="622.9" cy="263.2" r="4.1"/><circle cx="630.2" cy="270" r="4.1"/><circle cx="637.6" cy="273" r="4.1"/><circle cx="621.2" cy="273.9" r="4.1"/><circle cx="625.1" cy="276.4" r="4.1"/><circle cx="618.3" cy="282.9" r="4.1"/><circle cx="628" cy="284.9" r="4.1"/><circle cx="637.6" cy="285.8" r="4.1"/><circle cx="626.3" cy="298.5" r="4.1"/><circle cx="621.2" cy="315.8" r="4.1"/>
</g>
<rect x="608.05" y="243.50" width="40.30" height="11.95" fill="none" stroke="#a0a0a0" stroke-width="2.4" stroke-opacity="1.0"/>
<path d="M628 249V262" stroke="#a0a0a0" stroke-width="3" fill="none"/>
<path d="M624 262H632" stroke="#a0a0a0" stroke-width="2.4000000000000004" fill="none"/>
<g stroke="#a0a0a0" stroke-width="2.0" stroke-opacity="0.5" fill="#a0a0a0" fill-opacity="0.28">
<circle cx="708.8" cy="197.6" r="4.1"/><circle cx="702.6" cy="206.5" r="4.1"/><circle cx="705.5" cy="207.4" r="4.1"/><circle cx="697.6" cy="228.9" r="4.1"/><circle cx="695.9" cy="230.8" r="4.1"/><circle cx="711.6" cy="230.8" r="4.1"/><circle cx="704" cy="237.2" r="4.1"/><circle cx="711.6" cy="236.6" r="4.1"/><circle cx="695.3" cy="242.9" r="4.1"/><circle cx="711.6" cy="245.2" r="4.1"/><circle cx="711.6" cy="252.5" r="4.1"/><circle cx="704.9" cy="252.5" r="4.1"/><circle cx="699.2" cy="273" r="4.1"/><circle cx="705.9" cy="271.7" r="4.1"/><circle cx="713" cy="274" r="4.1"/><circle cx="702" cy="282" r="4.1"/><circle cx="709.7" cy="282" r="4.1"/><circle cx="709.7" cy="295.1" r="4.1"/><circle cx="714.1" cy="296.2" r="4.1"/><circle cx="711" cy="312.3" r="4.1"/><circle cx="704" cy="321.4" r="4.1"/><circle cx="704.9" cy="330.9" r="4.1"/>
</g>
<rect x="686.75" y="243.50" width="38.00" height="15.25" fill="none" stroke="#a0a0a0" stroke-width="2.4" stroke-dasharray="2.2 2.1" stroke-opacity="1.0"/>
<path d="M705.5 252V267.3" stroke="#a0a0a0" stroke-width="3" fill="none"/>
<path d="M701.5 252H709.5" stroke="#a0a0a0" stroke-width="2.4000000000000004" fill="none"/>
<path d="M701.5 267.3H709.5" stroke="#a0a0a0" stroke-width="2.4000000000000004" fill="none"/>
<path d="M432.5 727.5H745" stroke="#505050" stroke-width="1" fill="none"/>
<path d="M432.5 504.3V816" stroke="#444" stroke-width="1" fill="none"/>
<path d="M432.0 816H745" stroke="#333" stroke-width="1.0" fill="none"/>
<path d="M432.5 504.5h4" stroke="#444" stroke-width="1" fill="none"/>
<text x="426.4" y="509.6" font-size="13.7" fill="#4a4a4a" textLength="25.8" lengthAdjust="spacingAndGlyphs" text-anchor="end" >0.30</text>
<path d="M432.5 578.7h4" stroke="#444" stroke-width="1" fill="none"/>
<text x="426.4" y="583.8000000000001" font-size="13.7" fill="#4a4a4a" textLength="25.8" lengthAdjust="spacingAndGlyphs" text-anchor="end" >0.20</text>
<path d="M432.5 652.8h4" stroke="#444" stroke-width="1" fill="none"/>
<text x="426.4" y="657.9" font-size="13.7" fill="#4a4a4a" textLength="25.8" lengthAdjust="spacingAndGlyphs" text-anchor="end" >0.10</text>
<path d="M432.5 727h4" stroke="#444" stroke-width="1" fill="none"/>
<text x="426.4" y="732.1" font-size="13.7" fill="#4a4a4a" textLength="25.8" lengthAdjust="spacingAndGlyphs" text-anchor="end" >0.00</text>
<path d="M432.5 801h4" stroke="#444" stroke-width="1" fill="none"/>
<text x="426.4" y="806.1" font-size="13.7" fill="#4a4a4a" textLength="30.6" lengthAdjust="spacingAndGlyphs" text-anchor="end" >-0.10</text>
<path d="M471 816v-4.5" stroke="#444" stroke-width="1" fill="none"/>
<path d="M549 816v-4.5" stroke="#444" stroke-width="1" fill="none"/>
<path d="M627 816v-4.5" stroke="#444" stroke-width="1" fill="none"/>
<path d="M705 816v-4.5" stroke="#444" stroke-width="1" fill="none"/>
<text transform="translate(386.4 798.4) rotate(-90)" font-size="21" font-weight="bold" fill="#000" textLength="110" lengthAdjust="spacingAndGlyphs">Normalized</text>
<text transform="translate(386.4 682.3) rotate(-90)" font-size="21" font-weight="bold" fill="#000" textLength="102" lengthAdjust="spacingAndGlyphs">Amplitude</text>
<text transform="translate(386.4 574.7) rotate(-90)" font-size="21" font-weight="bold" fill="#000" textLength="44.2" lengthAdjust="spacingAndGlyphs">(&#8201;<tspan font-family="Liberation Serif, serif" font-style="italic">μ</tspan>V)</text>
<text transform="translate(468.8 831.1999999999999) rotate(20.6)" font-size="14.2" font-style="italic" fill="#333" textLength="63.2" lengthAdjust="spacingAndGlyphs">Congruent</text>
<text transform="translate(547.5 831.6) rotate(20.6)" font-size="14.2" font-style="italic" fill="#333" textLength="71.2" lengthAdjust="spacingAndGlyphs">Incongruent</text>
<text transform="translate(625.7 831.1999999999999) rotate(20.6)" font-size="14.2" font-style="italic" fill="#333" textLength="63.2" lengthAdjust="spacingAndGlyphs">Congruent</text>
<text transform="translate(704.4 831.6) rotate(20.6)" font-size="14.2" font-style="italic" fill="#333" textLength="71.2" lengthAdjust="spacingAndGlyphs">Incongruent</text>
<text x="502.3" y="878.0999999999999" font-size="20.4" fill="#000" font-weight="bold" textLength="71.8" lengthAdjust="spacingAndGlyphs" >Upright</text>
<text x="642.8" y="878.0999999999999" font-size="20.4" fill="#595959" font-weight="bold" textLength="79.3" lengthAdjust="spacingAndGlyphs" >Inverted</text>
<path d="M471.7 544.5H549.2" stroke="#4a4a4a" stroke-width="1" fill="none"/>
<path d="M627.5 544.5H705.5" stroke="#4a4a4a" stroke-width="1" fill="none"/>
<text x="495.7" y="544.6" font-size="20" fill="#000" font-weight="bold" textLength="15.6" lengthAdjust="spacingAndGlyphs" >**</text>
<text x="663.5" y="544.6" font-size="20" fill="#000" font-weight="bold" text-anchor="middle" >*</text>
<g stroke="#1f9cba" stroke-width="2.0" stroke-opacity="1" fill="#1f9cba" fill-opacity="0.4">
<circle cx="465.7" cy="566.2" r="4.1"/><circle cx="472.9" cy="563.1" r="4.1"/><circle cx="472.5" cy="601.7" r="4.1"/><circle cx="474.2" cy="623.3" r="4.1"/><circle cx="464" cy="635" r="4.1"/><circle cx="464" cy="650.8" r="4.1"/><circle cx="474.5" cy="653.5" r="4.1"/><circle cx="475.9" cy="654.9" r="4.1"/><circle cx="466.4" cy="660.3" r="4.1"/><circle cx="479.9" cy="665.7" r="4.1"/><circle cx="466.4" cy="680.4" r="4.1"/><circle cx="472.5" cy="679.1" r="4.1"/><circle cx="466.4" cy="685.9" r="4.1"/><circle cx="473.2" cy="685.9" r="4.1"/><circle cx="480.6" cy="692" r="4.1"/><circle cx="473.8" cy="695.3" r="4.1"/><circle cx="482.2" cy="702.1" r="4.1"/><circle cx="477.9" cy="712.9" r="4.1"/><circle cx="481.3" cy="714.7" r="4.1"/><circle cx="479.2" cy="715.6" r="4.1"/><circle cx="465.7" cy="731.9" r="4.1"/><circle cx="465.7" cy="746.1" r="4.1"/><circle cx="462.3" cy="755.5" r="4.1"/>
</g>
<rect x="451.95" y="672.75" width="39.00" height="54.75" fill="none" stroke="#1f9cba" stroke-width="2.4" stroke-opacity="1.0"/>
<path d="M471.8 660V683.8" stroke="#1f9cba" stroke-width="3" fill="none"/>
<g stroke="#1f9cba" stroke-width="2.0" stroke-opacity="0.5" fill="#1f9cba" fill-opacity="0.2">
<circle cx="549.6" cy="616.6" r="4.1"/><circle cx="553.7" cy="665" r="4.1"/><circle cx="551.6" cy="668.6" r="4.1"/><circle cx="551.2" cy="689.7" r="4.1"/><circle cx="544.9" cy="695.4" r="4.1"/><circle cx="557.7" cy="694.4" r="4.1"/><circle cx="555.7" cy="700.5" r="4.1"/><circle cx="541.5" cy="704.6" r="4.1"/><circle cx="549.6" cy="705.6" r="4.1"/><circle cx="555.7" cy="710.7" r="4.1"/><circle cx="543.5" cy="711.7" r="4.1"/><circle cx="538.4" cy="717.8" r="4.1"/><circle cx="548.6" cy="718.8" r="4.1"/><circle cx="555.7" cy="721.4" r="4.1"/><circle cx="540.5" cy="722.8" r="4.1"/><circle cx="547.6" cy="724.3" r="4.1"/><circle cx="542.5" cy="728.9" r="4.1"/><circle cx="544.5" cy="736" r="4.1"/><circle cx="546.1" cy="772.2" r="4.1"/>
</g>
<rect x="530.25" y="707.15" width="38.10" height="20.35" fill="none" stroke="#1f9cba" stroke-width="2.4" stroke-dasharray="2.2 2.1" stroke-opacity="1.0"/>
<path d="M549.6 700.5V711.7" stroke="#1f9cba" stroke-width="3" fill="none"/>
<path d="M545.6 700.5H553.6" stroke="#1f9cba" stroke-width="2.4000000000000004" fill="none"/>
<path d="M545.6 711.7H553.6" stroke="#1f9cba" stroke-width="2.4000000000000004" fill="none"/>
<g stroke="#a0a0a0" stroke-width="2.0" stroke-opacity="1" fill="#a0a0a0" fill-opacity="0.6">
<circle cx="620.6" cy="580.8" r="4.1"/><circle cx="633.6" cy="606.2" r="4.1"/><circle cx="628.6" cy="612.5" r="4.1"/><circle cx="631.7" cy="631" r="4.1"/><circle cx="621.7" cy="639.8" r="4.1"/><circle cx="631.2" cy="645.7" r="4.1"/><circle cx="623.4" cy="648.8" r="4.1"/><circle cx="621.5" cy="650.7" r="4.1"/><circle cx="628.6" cy="658.9" r="4.1"/><circle cx="631.7" cy="667.7" r="4.1"/><circle cx="619.9" cy="676" r="4.1"/><circle cx="628.6" cy="683.1" r="4.1"/><circle cx="629.8" cy="694.9" r="4.1"/><circle cx="635.7" cy="696.1" r="4.1"/><circle cx="618.7" cy="702" r="4.1"/><circle cx="625.8" cy="709.6" r="4.1"/><circle cx="622.9" cy="712.7" r="4.1"/><circle cx="634.1" cy="716.9" r="4.1"/><circle cx="623.9" cy="720.9" r="4.1"/><circle cx="619.4" cy="750.5" r="4.1"/>
</g>
<rect x="607.95" y="672.15" width="39.10" height="55.35" fill="none" stroke="#a0a0a0" stroke-width="2.4" stroke-opacity="1.0"/>
<path d="M627.4 660V683" stroke="#a0a0a0" stroke-width="3" fill="none"/>
<g stroke="#a0a0a0" stroke-width="2.0" stroke-opacity="0.5" fill="#a0a0a0" fill-opacity="0.28">
<circle cx="699.8" cy="635.8" r="4.1"/><circle cx="697.4" cy="649" r="4.1"/><circle cx="698.4" cy="672.9" r="4.1"/><circle cx="700.5" cy="675" r="4.1"/><circle cx="699" cy="673.6" r="4.1"/><circle cx="697.6" cy="674.4" r="4.1"/><circle cx="697.5" cy="712.3" r="4.1"/><circle cx="699" cy="714.6" r="4.1"/><circle cx="711.6" cy="674" r="4.1"/><circle cx="716.1" cy="678.6" r="4.1"/><circle cx="699.4" cy="698.3" r="4.1"/><circle cx="704.5" cy="697.7" r="4.1"/><circle cx="694.4" cy="703.4" r="4.1"/><circle cx="696.4" cy="711.5" r="4.1"/><circle cx="699.4" cy="713.6" r="4.1"/><circle cx="709.6" cy="713.6" r="4.1"/><circle cx="706.1" cy="717" r="4.1"/><circle cx="695.8" cy="719.6" r="4.1"/><circle cx="711.6" cy="729.4" r="4.1"/><circle cx="695.4" cy="735.5" r="4.1"/><circle cx="696.4" cy="737.5" r="4.1"/><circle cx="705.1" cy="741" r="4.1"/><circle cx="700.9" cy="771.8" r="4.1"/>
</g>
<rect x="686.75" y="703.35" width="37.10" height="24.15" fill="none" stroke="#a0a0a0" stroke-width="2.4" stroke-dasharray="2.2 2.1" stroke-opacity="1.0"/>
<path d="M706.1 696.3V709.5" stroke="#a0a0a0" stroke-width="3" fill="none"/>
<path d="M702.1 696.3H710.1" stroke="#a0a0a0" stroke-width="2.4000000000000004" fill="none"/>
<path d="M702.1 709.5H710.1" stroke="#a0a0a0" stroke-width="2.4000000000000004" fill="none"/>
<path d="M933.3 52.699999999999996V367H1243" stroke="#3a3a3a" stroke-width="1.8" fill="none" stroke-linejoin="miter"/>
<path d="M933.3 53.3h4.5" stroke="#3a3a3a" stroke-width="1.2" fill="none"/>
<text x="927.0" y="58.199999999999996" font-size="12.3" fill="#4a4a4a" text-anchor="end" >0.15</text>
<path d="M933.3 158.2h4.5" stroke="#3a3a3a" stroke-width="1.2" fill="none"/>
<text x="927.0" y="163.1" font-size="12.3" fill="#4a4a4a" text-anchor="end" >0.05</text>
<path d="M933.3 263h4.5" stroke="#3a3a3a" stroke-width="1.2" fill="none"/>
<text x="927.0" y="267.9" font-size="12.3" fill="#4a4a4a" text-anchor="end" >-0.05</text>
<path d="M933.3 367h4.5" stroke="#3a3a3a" stroke-width="1.2" fill="none"/>
<text x="927.0" y="371.9" font-size="12.3" fill="#4a4a4a" text-anchor="end" >-0.15</text>
<path d="M943.8 367v-4.5" stroke="#3a3a3a" stroke-width="1.2" fill="none"/>
<text x="943.8" y="385.7" font-size="12.3" fill="#4a4a4a" text-anchor="middle" >5</text>
<path d="M999.2 367v-4.5" stroke="#3a3a3a" stroke-width="1.2" fill="none"/>
<text x="999.2" y="385.7" font-size="12.3" fill="#4a4a4a" textLength="13.3" lengthAdjust="spacingAndGlyphs" text-anchor="middle" >10</text>
<path d="M1054.6 367v-4.5" stroke="#3a3a3a" stroke-width="1.2" fill="none"/>
<text x="1054.6" y="385.7" font-size="12.3" fill="#4a4a4a" textLength="13.3" lengthAdjust="spacingAndGlyphs" text-anchor="middle" >15</text>
<path d="M1109.8 367v-4.5" stroke="#3a3a3a" stroke-width="1.2" fill="none"/>
<text x="1109.8" y="385.7" font-size="12.3" fill="#4a4a4a" textLength="13.3" lengthAdjust="spacingAndGlyphs" text-anchor="middle" >20</text>
<path d="M1165.2 367v-4.5" stroke="#3a3a3a" stroke-width="1.2" fill="none"/>
<text x="1165.2" y="385.7" font-size="12.3" fill="#4a4a4a" textLength="13.3" lengthAdjust="spacingAndGlyphs" text-anchor="middle" >25</text>
<path d="M1220.3 367v-4.5" stroke="#3a3a3a" stroke-width="1.2" fill="none"/>
<text x="1220.3" y="385.7" font-size="12.3" fill="#4a4a4a" textLength="13.3" lengthAdjust="spacingAndGlyphs" text-anchor="middle" >30</text>
<text transform="translate(891.5 379.8) rotate(-90)" font-size="21" fill="#555" textLength="332.5" lengthAdjust="spacingAndGlyphs">Congruency effect (Upright-Inverted)</text>
<text x="930.2" y="409.59999999999997" font-size="19.7" fill="#555" textLength="315.2" lengthAdjust="spacingAndGlyphs" >AQ Score (the level of autistic trait)</text>
<path d="M954.8 76.6 L961.4 80.1 L968.1 83.7 L974.7 87.3 L981.3 90.9 L988.0 94.4 L994.6 97.9 L1001.3 101.4 L1007.9 104.9 L1014.5 108.4 L1021.2 111.8 L1027.8 115.2 L1034.4 118.5 L1041.1 121.8 L1047.7 125.0 L1054.3 128.2 L1061.0 131.2 L1067.6 134.1 L1074.2 136.9 L1080.9 139.6 L1087.5 142.0 L1094.2 144.3 L1100.8 146.3 L1107.4 148.1 L1114.1 149.8 L1120.7 151.2 L1127.3 152.5 L1134.0 153.6 L1140.6 154.6 L1147.2 155.5 L1153.9 156.4 L1160.5 157.1 L1167.2 157.8 L1173.8 158.4 L1180.4 159.1 L1187.1 159.6 L1193.7 160.2 L1200.3 160.7 L1207.0 161.2 L1213.6 161.6 L1220.2 162.1 L1220.2 230.1 L1213.6 226.5 L1207.0 223.0 L1200.3 219.5 L1193.7 216.0 L1187.1 212.5 L1180.4 209.1 L1173.8 205.6 L1167.2 202.3 L1160.5 199.0 L1153.9 195.7 L1147.2 192.5 L1140.6 189.4 L1134.0 186.4 L1127.3 183.5 L1120.7 180.8 L1114.1 178.2 L1107.4 175.8 L1100.8 173.6 L1094.2 171.7 L1087.5 169.9 L1080.9 168.3 L1074.2 166.9 L1067.6 165.7 L1061.0 164.6 L1054.3 163.7 L1047.7 162.8 L1041.1 162.0 L1034.4 161.2 L1027.8 160.6 L1021.2 159.9 L1014.5 159.3 L1007.9 158.8 L1001.3 158.3 L994.6 157.7 L988.0 157.3 L981.3 156.8 L974.7 156.3 L968.1 155.9 L961.4 155.5 L954.8 155.0Z" fill="#b677b2" fill-opacity="0.28"/>
<path d="M954.8 115.8L1220.2 196.1" stroke="#b677b2" stroke-width="3.6" fill="none"/>
<g stroke="#b06fac" stroke-width="1.7" stroke-opacity="1" fill="#b677b2" fill-opacity="0.5">
<circle cx="954.8" cy="69.5" r="4.7"/><circle cx="1021.4" cy="118.5" r="4.7"/><circle cx="999.3" cy="127.5" r="4.7"/><circle cx="988.7" cy="142.4" r="4.7"/><circle cx="1087.5" cy="83.2" r="4.7"/><circle cx="1065.2" cy="122.9" r="4.7"/><circle cx="1076.3" cy="132" r="4.7"/><circle cx="1131.6" cy="122.2" r="4.7"/><circle cx="1164.6" cy="142.4" r="4.7"/><circle cx="1175.8" cy="153.8" r="4.7"/><circle cx="1198.1" cy="151.2" r="4.7"/><circle cx="1131.6" cy="162.9" r="4.7"/><circle cx="1054.3" cy="172.3" r="4.7"/><circle cx="1065.2" cy="172" r="4.7"/><circle cx="1098.7" cy="173.6" r="4.7"/><circle cx="1120.7" cy="188.9" r="4.7"/><circle cx="1131.6" cy="191.5" r="4.7"/><circle cx="1120.7" cy="196.9" r="4.7"/><circle cx="1065.2" cy="200" r="4.7"/><circle cx="1120.7" cy="211.7" r="4.7"/><circle cx="1164.6" cy="215.6" r="4.7"/><circle cx="1109.6" cy="235.1" r="4.7"/><circle cx="1220.2" cy="195.6" r="4.7"/>
</g>
<text x="954.1" y="322.8" font-size="23.2" fill="#000" font-style="italic" textLength="95" lengthAdjust="spacingAndGlyphs" >r = -0.493</text>
<text x="954.1" y="349.8" font-size="23.2" fill="#000" font-style="italic" textLength="92.2" lengthAdjust="spacingAndGlyphs" >p = 0.017</text>
<path d="M927.2 510.4V823.3H1243.5" stroke="#3a3a3a" stroke-width="1.4" fill="none" stroke-linejoin="miter"/>
<path d="M927.2 511h4.5" stroke="#3a3a3a" stroke-width="1.2" fill="none"/>
<text x="920.9000000000001" y="515.9" font-size="12.3" fill="#4a4a4a" text-anchor="end" >0.2</text>
<path d="M927.2 589h4.5" stroke="#3a3a3a" stroke-width="1.2" fill="none"/>
<text x="920.9000000000001" y="593.9" font-size="12.3" fill="#4a4a4a" text-anchor="end" >0.1</text>
<path d="M927.2 667.2h4.5" stroke="#3a3a3a" stroke-width="1.2" fill="none"/>
<text x="920.9000000000001" y="672.1" font-size="12.3" fill="#4a4a4a" text-anchor="end" >0</text>
<path d="M927.2 745h4.5" stroke="#3a3a3a" stroke-width="1.2" fill="none"/>
<text x="920.9000000000001" y="749.9" font-size="12.3" fill="#4a4a4a" text-anchor="end" >-0.1</text>
<path d="M927.2 823.4h4.5" stroke="#3a3a3a" stroke-width="1.2" fill="none"/>
<text x="920.9000000000001" y="828.3" font-size="12.3" fill="#4a4a4a" text-anchor="end" >-0.2</text>
<path d="M938 823.3v-4.5" stroke="#3a3a3a" stroke-width="1.2" fill="none"/>
<text x="938" y="842" font-size="12.3" fill="#4a4a4a" text-anchor="middle" >5</text>
<path d="M994.4 823.3v-4.5" stroke="#3a3a3a" stroke-width="1.2" fill="none"/>
<text x="994.4" y="842" font-size="12.3" fill="#4a4a4a" textLength="13.3" lengthAdjust="spacingAndGlyphs" text-anchor="middle" >10</text>
<path d="M1050.8 823.3v-4.5" stroke="#3a3a3a" stroke-width="1.2" fill="none"/>
<text x="1050.8" y="842" font-size="12.3" fill="#4a4a4a" textLength="13.3" lengthAdjust="spacingAndGlyphs" text-anchor="middle" >15</text>
<path d="M1107.2 823.3v-4.5" stroke="#3a3a3a" stroke-width="1.2" fill="none"/>
<text x="1107.2" y="842" font-size="12.3" fill="#4a4a4a" textLength="13.3" lengthAdjust="spacingAndGlyphs" text-anchor="middle" >20</text>
<path d="M1163.6 823.3v-4.5" stroke="#3a3a3a" stroke-width="1.2" fill="none"/>
<text x="1163.6" y="842" font-size="12.3" fill="#4a4a4a" textLength="13.3" lengthAdjust="spacingAndGlyphs" text-anchor="middle" >25</text>
<path d="M1220 823.3v-4.5" stroke="#3a3a3a" stroke-width="1.2" fill="none"/>
<text x="1220" y="842" font-size="12.3" fill="#4a4a4a" textLength="13.3" lengthAdjust="spacingAndGlyphs" text-anchor="middle" >30</text>
<text transform="translate(891.5 836.4) rotate(-90)" font-size="21" fill="#555" textLength="332.8" lengthAdjust="spacingAndGlyphs">Congruency effect (Upright-Inverted)</text>
<text x="924" y="866.1999999999999" font-size="19.7" fill="#555" textLength="321.2" lengthAdjust="spacingAndGlyphs" >AQ Score (the level of autistic trait)</text>
<path d="M949.4 590.0 L956.2 592.8 L962.9 595.6 L969.7 598.4 L976.5 601.2 L983.2 603.9 L990.0 606.6 L996.8 609.3 L1003.5 611.9 L1010.3 614.5 L1017.1 617.0 L1023.8 619.5 L1030.6 621.9 L1037.4 624.2 L1044.1 626.4 L1050.9 628.5 L1057.7 630.5 L1064.4 632.3 L1071.2 634.0 L1078.0 635.5 L1084.7 636.8 L1091.5 637.9 L1098.3 638.8 L1105.0 639.5 L1111.8 640.0 L1118.6 640.3 L1125.3 640.4 L1132.1 640.3 L1138.9 640.0 L1145.6 639.7 L1152.4 639.2 L1159.2 638.6 L1165.9 637.9 L1172.7 637.1 L1179.5 636.3 L1186.2 635.4 L1193.0 634.4 L1199.7 633.4 L1206.5 632.4 L1213.3 631.3 L1220.0 630.2 L1220.0 723.8 L1213.3 721.0 L1206.5 718.3 L1199.7 715.6 L1193.0 713.0 L1186.2 710.4 L1179.5 707.8 L1172.7 705.3 L1165.9 702.9 L1159.2 700.6 L1152.4 698.3 L1145.6 696.2 L1138.9 694.2 L1132.1 692.3 L1125.3 690.5 L1118.6 689.0 L1111.8 687.6 L1105.0 686.4 L1098.3 685.5 L1091.5 684.7 L1084.7 684.2 L1078.0 683.8 L1071.2 683.7 L1064.4 683.7 L1057.7 683.9 L1050.9 684.2 L1044.1 684.7 L1037.4 685.2 L1030.6 685.9 L1023.8 686.7 L1017.1 687.5 L1010.3 688.3 L1003.5 689.3 L996.8 690.3 L990.0 691.3 L983.2 692.3 L976.5 693.4 L969.7 694.5 L962.9 695.7 L956.2 696.8 L949.4 698.0Z" fill="#1f9cba" fill-opacity="0.22"/>
<path d="M949.4 644L1220 677" stroke="#1f9cba" stroke-width="3.6" fill="none"/>
<g stroke="#1f9cba" stroke-width="1.7" stroke-opacity="1" fill="#1f9cba" fill-opacity="0.4">
<circle cx="949.6" cy="608.6" r="4.7"/><circle cx="983.1" cy="641.5" r="4.7"/><circle cx="994.4" cy="661.8" r="4.7"/><circle cx="1016.9" cy="631.8" r="4.7"/><circle cx="1062.1" cy="578.3" r="4.7"/><circle cx="1062.1" cy="616.3" r="4.7"/><circle cx="1073.3" cy="632.1" r="4.7"/><circle cx="1095.9" cy="605" r="4.7"/><circle cx="1129.7" cy="614.4" r="4.7"/><circle cx="1129.7" cy="624.7" r="4.7"/><circle cx="1163.6" cy="609.6" r="4.7"/><circle cx="1197.4" cy="603.4" r="4.7"/><circle cx="1163.6" cy="657.6" r="4.7"/><circle cx="1220" cy="652.1" r="4.7"/><circle cx="1118.5" cy="673" r="4.7"/><circle cx="1129.7" cy="688.3" r="4.7"/><circle cx="1062.1" cy="696.6" r="4.7"/><circle cx="1084.6" cy="701.8" r="4.7"/><circle cx="1107.2" cy="719.8" r="4.7"/><circle cx="1118.5" cy="726.3" r="4.7"/><circle cx="1129.7" cy="727.6" r="4.7"/><circle cx="1050.8" cy="732.7" r="4.7"/><circle cx="1174.9" cy="742.4" r="4.7"/><circle cx="1118.5" cy="747.2" r="4.7"/>
</g>
<text x="948.6" y="778.5" font-size="23.2" fill="#000" font-style="italic" textLength="95" lengthAdjust="spacingAndGlyphs" >r = -0.158</text>
<text x="948.6" y="805.5" font-size="23.2" fill="#000" font-style="italic" textLength="92" lengthAdjust="spacingAndGlyphs" >p = 0.460</text>
</svg>
</body></html>
